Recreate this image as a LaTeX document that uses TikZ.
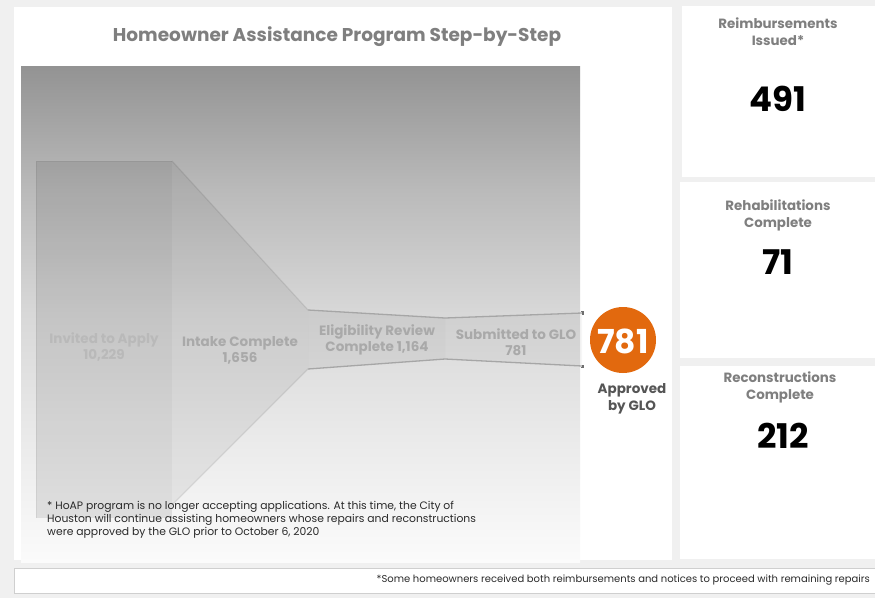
\documentclass[tikz,border=0pt]{standalone}
\usepackage{fontspec}
\setmainfont{Poppins}
\usetikzlibrary{positioning}
\definecolor{pagebg}{HTML}{F0F0F0}
\definecolor{ttlgray}{HTML}{7F7F7F}
\definecolor{lblgray}{HTML}{A9A9A9}
\definecolor{invgray}{HTML}{B9B9B9}
\definecolor{edgegray}{HTML}{A6A6A6}
\definecolor{tickgray}{HTML}{6E6E6E}
\definecolor{orng}{HTML}{E2690E}
\definecolor{darkgray}{HTML}{555555}
\definecolor{notegray}{HTML}{2A2A2A}
\definecolor{boxedge}{HTML}{CFCFCF}
\definecolor{gA}{HTML}{939393}
\definecolor{gB}{HTML}{BABABA}
\definecolor{gC}{HTML}{D8D8D8}
\definecolor{gD}{HTML}{EAEAEA}
\definecolor{gE}{HTML}{FBFBFB}
\pgfdeclareverticalshading{panelshade}{100bp}{color(0bp)=(gE); color(25bp)=(gE); color(37.5bp)=(gD); color(50bp)=(gC); color(62.5bp)=(gB); color(75bp)=(gA); color(100bp)=(gA)}
\tikzset{
  panel/.style={fill=white, draw=none},
  stagelbl/.style={font=\bfseries\fontsize{13.5}{16}\selectfont, text=lblgray, align=center, inner sep=0pt},
  headlbl/.style={font=\bfseries\fontsize{13.4}{17}\selectfont, text=ttlgray, align=center, inner sep=0pt},
  bignum/.style={font=\bfseries\fontsize{34}{36}\selectfont, text=black, inner sep=0pt},
  funedge/.style={draw=edgegray, line width=1.3pt},
}
\begin{document}
\begin{tikzpicture}[x=1pt,y=-1pt]
\useasboundingbox (0,0) rectangle (875,598);
\fill[pagebg] (0,0) rectangle (875,598);
% panels
\fill[white] (14,7) rectangle (672,560);
\fill[white] (682,6) rectangle (875,177);
\fill[white] (680,182) rectangle (875,358);
\fill[white] (680,366) rectangle (875,559);
\draw[boxedge, fill=white, line width=0.8pt] (14,568) rectangle (878,593);
% gradient area
\shade[shading=panelshade] (21,66) rectangle (580,562);
% funnel
\fill[black, fill opacity=0.09] (36,161) rectangle (172,518);
\draw[black, draw opacity=0.06, line width=0.8pt] (36,518) -- (36,161) -- (172,161);
\fill[black, fill opacity=0.06] (172,161) -- (308,310) -- (308,369) -- (172,505) -- cycle;
\draw[black, draw opacity=0.08, line width=1.2pt] (172,161) -- (308,310);
\draw[black, draw opacity=0.08, line width=1.2pt] (308,369) -- (172,505);
\fill[black, fill opacity=0.05] (308,310) -- (445,318) -- (445,359) -- (308,369) -- cycle;
\fill[black, fill opacity=0.035] (445,318) -- (582,313) -- (582,366) -- (445,359) -- cycle;
\draw[funedge] (308,310) -- (445,318) -- (582,313);
\draw[funedge] (308,369) -- (445,359) -- (582,366);
\draw[tickgray, line width=1.2pt] (581,311.5) -- (583,311.5) -- (583,314.5);
\draw[tickgray, line width=1.2pt] (581,367.5) -- (583,367.5) -- (583,364.5);
% stage labels
\node[stagelbl, text=invgray] (invited) at (104,347) {Invited to Apply\\10,229};
\node[stagelbl] (intake) at (240,350) {Intake Complete\\1,656};
\node[stagelbl] (elig) at (377,340) {Eligibility Review\\Complete 1,164};
\node[stagelbl] (subm) at (516,342) {Submitted to GLO\\781};
% approved circle
\node[circle, fill=orng, minimum size=66pt, inner sep=0pt] (appr) at (623,340) {};
\node[font=\bfseries\fontsize{33}{35}\selectfont, text=white, inner sep=0pt] (apprnum) at (623,341) {781};
\node[font=\bfseries\fontsize{13.5}{17}\selectfont, text=darkgray, align=center, inner sep=0pt] (apprlbl) at (632,398.5) {Approved\\by GLO};
% title
\node[font=\bfseries\fontsize{18.5}{21}\selectfont, text=ttlgray, inner sep=0pt] (title) at (337,37) {Homeowner Assistance Program Step-by-Step};
% note
\node[font=\fontsize{10.8}{13}\selectfont, text=notegray, align=left, anchor=west, inner sep=0pt] (note) at (47,520) {* HoAP program is no longer accepting applications. At this time, the City of\\Houston will continue assisting homeowners whose repairs and reconstructions\\were approved by the GLO prior to October 6, 2020};
% right panels
\node[headlbl] (reimbh) at (778,31.5) {Reimbursements\\Issued*};
\node[bignum] (reimbn) at (778,99) {491};
\node[headlbl] (rehabh) at (778,215) {Rehabilitations\\Complete};
\node[bignum] (rehabn) at (778,262) {71};
\node[headlbl] (reconh) at (780,387) {Reconstructions\\Complete};
\node[bignum] (reconn) at (783,436) {212};
% footer
\node[font=\fontsize{10}{12}\selectfont, text=notegray, anchor=east, inner sep=0pt] (foot) at (870,580) {*Some homeowners received both reimbursements and notices to proceed with remaining repairs};
\end{tikzpicture}
\end{document}
